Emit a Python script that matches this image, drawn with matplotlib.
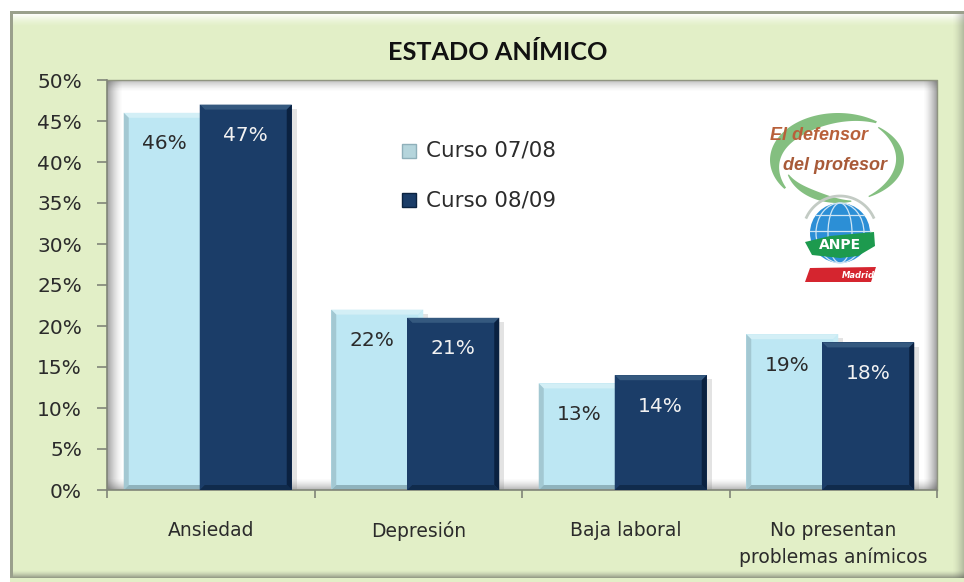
import numpy as np
import matplotlib
matplotlib.use("Agg")
import matplotlib.pyplot as plt
from matplotlib.patches import Polygon, Rectangle, Circle, Ellipse

categories = ["Ansiedad", "Depresión", "Baja laboral", "No presentan\nproblemas anímicos"]
curso_0708 = [46, 22, 13, 19]
curso_0809 = [47, 21, 14, 18]
series_names = ["Curso 07/08", "Curso 08/09"]
y_ticks = [0, 5, 10, 15, 20, 25, 30, 35, 40, 45, 50]

W, H = 964, 582
L, R, T, B = 107, 937, 80, 490
TEXT = "#2b2b2b"
GREEN = "#e2efc7"

fig = plt.figure(figsize=(W / 100, H / 100), dpi=100, facecolor="white")

# fondo en pixeles: marco, panel y sombras
bg = fig.add_axes([0, 0, 1, 1], zorder=0)
bg.axis("off")
bg.add_patch(Rectangle((10, 11), 954, 571, fc=GREEN, ec="none"))
bg.add_patch(Rectangle((10, 11), 3, 567, fc="#9aa08c", ec="none", zorder=1))
bg.add_patch(Rectangle((10, 11), 954, 3, fc="#9aa08c", ec="none", zorder=1))


def shade(x0, x1, y0, y1, vertical, reverse=False, alpha=0.4, rgb=0.25):
    g = np.linspace(alpha, 0, 40) ** 1.5 / alpha ** 0.5
    if reverse:
        g = g[::-1]
    g = g[:, None] if vertical else g[None, :]
    rgba = np.zeros(g.shape + (4,))
    rgba[..., :3] = rgb
    rgba[..., 3] = g
    bg.imshow(rgba, extent=(x0, x1, y1, y0), aspect="auto", zorder=4, interpolation="bilinear")


shade(13, 964, 14, 27, True, alpha=0.95, rgb=1.0)
shade(13, 964, 570, 578, True, reverse=True, alpha=0.5)
shade(952, 964, 14, 578, False, reverse=True, alpha=0.3)
bg.add_patch(Rectangle((L, T), R - L, B - T, fc="white", ec="none", zorder=3))
shade(L, R, T, T + 12, True, alpha=0.35)
shade(L, R, B - 12, B, True, reverse=True)
shade(L, L + 16, T, B, False, alpha=0.5)
shade(R - 14, R, T, B, False, reverse=True, alpha=0.5)
bg.plot([L, R, R], [T, T, B], color="#8f9480", lw=1, zorder=5)
bg.set_xlim(0, W)
bg.set_ylim(H, 0)


def arc(cx, cy, rx, ry, t0, t1, wmax, color="#84bf80"):
    # arco del logo, mas grueso en el centro
    t = np.radians(np.linspace(t0, t1, 80))
    w = wmax * (0.15 + 0.85 * np.sin(np.linspace(0, np.pi, 80)))
    xo, yo = cx + rx * np.cos(t), cy - ry * np.sin(t)
    xi, yi = cx + (rx - w) * np.cos(t), cy - (ry - w) * np.sin(t)
    pts = np.r_[np.c_[xo, yo], np.c_[xi, yi][::-1]]
    bg.add_patch(Polygon(pts, fc=color, ec="none", zorder=5))


# logo aproximado
arc(838, 160, 68, 47, 55, 218, 14)
arc(838, 160, 66, 42, 52, -62, 8)
arc(838, 165, 52, 38, 195, 285, 8)
bg.text(819, 135, "El defensor", color="#b8603a", fontsize=13, style="italic", weight="bold",
        family="Liberation Sans", ha="center", va="center", zorder=6)
bg.text(835, 165, "del profesor", color="#a85a38", fontsize=13, style="italic", weight="bold",
        family="Liberation Sans", ha="center", va="center", zorder=6)
t_ring = np.radians(np.linspace(25, 155, 40))
bg.plot(840 + 37 * np.cos(t_ring), 233 - 37 * np.sin(t_ring), color="#c3cbc4", lw=2, zorder=5)
bg.add_patch(Circle((840, 233), 30, fc="#2c8fd6", ec="none", zorder=5))
for rx in (12, 24):
    bg.add_patch(Ellipse((840, 233), rx * 2, 60, fc="none", ec="#cfe6f5", lw=0.9, zorder=6))
for dy in (-18, -2):
    half = np.sqrt(30 ** 2 - dy ** 2)
    bg.plot([840 - half, 840 + half], [233 + dy, 233 + dy], color="#cfe6f5", lw=0.9, zorder=6)
bg.add_patch(Polygon([(805, 242), (830, 236), (874, 232), (875, 246), (858, 256), (840, 258), (812, 255)],
                     fc="#1d9a4e", ec="none", zorder=7))
bg.text(840, 245, "ANPE", color="white", fontsize=10, weight="bold", ha="center", va="center", zorder=8)
bg.add_patch(Polygon([(810, 268), (876, 267), (871, 282), (805, 282)], fc="#d5252f", ec="none", zorder=5))
bg.text(858, 275, "Madrid", color="white", fontsize=6, style="italic", weight="bold",
        ha="center", va="center", zorder=6)

# grafico principal
ax = fig.add_axes([L / W, 1 - B / H, (R - L) / W, (B - T) / H], zorder=2)
ax.patch.set_alpha(0)
x = np.arange(len(categories))
bw = 92 / 207.5
off = 38 / 207.5
shift = -3 / 207.5
LIGHT, DARK = "#bde7f3", "#1b3d68"
b1 = ax.bar(x - off + shift, curso_0708, bw, color=LIGHT, zorder=2, label=series_names[0])
b2 = ax.bar(x + off + shift, curso_0809, bw, color=DARK, zorder=3, label=series_names[1])
ax.set_xlim(-0.5, 3.5)
ax.set_ylim(0, 50)


def bevel(bar, top, left, right, bottom, z):
    # biseles de la barra
    x0, y0 = bar.get_x(), bar.get_y()
    x1, y1 = x0 + bar.get_width(), y0 + bar.get_height()
    dx = 5 / 207.5
    dy = 5 / 8.2
    ax.add_patch(Polygon([(x0, y1), (x1, y1), (x1 - dx, y1 - dy), (x0 + dx, y1 - dy)], fc=top, ec="none", zorder=z))
    ax.add_patch(Polygon([(x0, y0), (x0, y1), (x0 + dx, y1 - dy), (x0 + dx, y0 + dy)], fc=left, ec="none", zorder=z))
    ax.add_patch(Polygon([(x1, y0), (x1, y1), (x1 - dx, y1 - dy), (x1 - dx, y0 + dy)], fc=right, ec="none", zorder=z))
    ax.add_patch(Polygon([(x0, y0), (x1, y0), (x1 - dx, y0 + dy), (x0 + dx, y0 + dy)], fc=bottom, ec="none", zorder=z))
    ax.add_patch(Rectangle((x1, y0), 5 / 207.5, bar.get_height() - 0.5, fc="#777777", alpha=0.2, ec="none",
                           zorder=z - 1.5))


for bar in b1:
    bevel(bar, "#d3eff6", "#a3c8d2", "#c8ecf5", "#8fb3bd", 2.5)
for bar in b2:
    bevel(bar, "#35597f", "#1b3d68", "#0a2140", "#102b4c", 3.5)

for bar, v in zip(b1, curso_0708):
    ax.annotate(f"{v}%", (bar.get_x() + bar.get_width() * 0.44, v), xytext=(0, -31), textcoords="offset pixels",
                ha="center", va="center", fontsize=14.5, color=TEXT, zorder=6)
for bar, v in zip(b2, curso_0809):
    ax.annotate(f"{v}%", (bar.get_x() + bar.get_width() / 2, v), xytext=(0, -31), textcoords="offset pixels",
                ha="center", va="center", fontsize=14.5, color="#f2f2f2", zorder=6)

ax.set_yticks(y_ticks, [f"{v}%" for v in y_ticks], fontsize=14.5, color=TEXT)
ax.set_xticks(np.arange(len(categories) + 1) - 0.5, [""] * (len(categories) + 1))
ax.set_xticks(x, categories, minor=True, fontsize=13.5, color=TEXT, linespacing=1.5, va="top")
ax.tick_params(axis="y", color="#808578", width=1.2, length=7, pad=11)
ax.tick_params(axis="x", which="major", color="#808578", width=1.2, length=6)
ax.tick_params(axis="x", which="minor", length=0, pad=22)
for s in ("top", "right"):
    ax.spines[s].set_visible(False)
for s in ("left", "bottom"):
    ax.spines[s].set_color("#808578")
    ax.spines[s].set_linewidth(1.2)

fig.text(498 / W, 1 - 53 / H, "ESTADO ANÍMICO", ha="center", va="center", fontsize=18.2, weight="bold",
         family="Lato", color="#111111")

# leyenda a mano, como en el original
for i, (name, c, e) in enumerate(zip(series_names, ["#b5d5dc", DARK], ["#8fb0ba", "#0b2340"])):
    y = 151 + i * 49
    bg.add_patch(Rectangle((402, y - 7), 14, 14, fc=c, ec=e, lw=1, zorder=6))
    bg.text(426, y, name, fontsize=15.4, color=TEXT, va="center", zorder=6)

fig.savefig("out.png", dpi=100)
